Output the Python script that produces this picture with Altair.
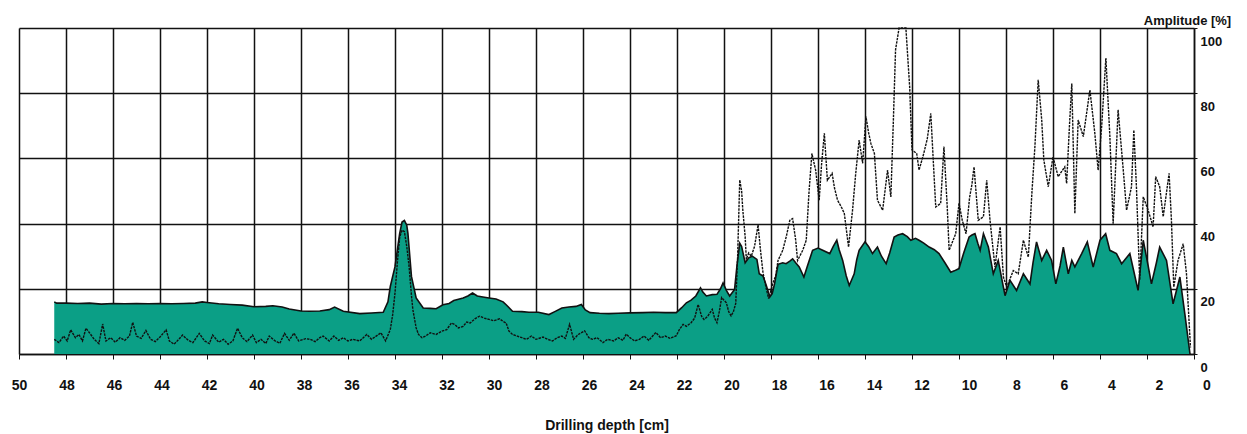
import altair as alt
import pandas as pd

# Drilling depth [cm] and amplitude [%] of the filled (feed force) curve
depth_a = [48.5, 48.4, 48.0, 47.5, 47.0, 46.5, 46.0, 45.5, 45.0, 44.5, 44.0, 43.5, 43.0, 42.5, 42.2, 42.0,
           41.5, 41.0, 40.5, 40.0, 39.5, 39.2, 38.8, 38.5, 38.0, 37.63, 37.2, 36.8, 36.57, 36.2, 35.5, 35.0,
           34.5, 34.3, 34.2, 34.0, 33.8, 33.7, 33.6, 33.5, 33.45, 33.3, 33.1, 32.8, 32.5, 32.25, 31.96, 31.7,
           31.5, 31.3, 31.1, 30.9, 30.7, 30.5, 30.26, 30.0, 29.7, 29.4, 29.27, 29.0, 28.6, 28.3, 27.9, 27.45,
           27.2, 26.9, 26.6, 26.3, 26.07, 25.9, 25.7, 25.3, 24.9, 24.5, 24.0, 23.45, 23.0, 22.5, 22.03, 21.8,
           21.6, 21.4, 21.2, 21.0, 20.9, 20.75, 20.5, 20.3, 20.15, 20.04, 19.9, 19.76, 19.55, 19.45, 19.33,
           19.25, 19.1, 18.95, 18.8, 18.6, 18.5, 18.34, 18.2, 18.05, 17.95, 17.85, 17.7, 17.5, 17.36, 17.2,
           17.08, 16.95, 16.8, 16.6, 16.45, 16.23, 16.0, 15.8, 15.5, 15.35, 15.2, 15.1, 14.95, 14.8, 14.67,
           14.46, 14.35, 14.25, 14.0, 13.85, 13.68, 13.47, 13.3, 13.1, 12.95, 12.76, 12.6, 12.4, 12.2, 12.05,
           11.85, 11.7, 11.5, 11.27, 11.05, 10.85, 10.6, 10.35, 10.2, 10.0, 9.8, 9.57, 9.45, 9.32, 9.2, 9.1,
           8.96, 8.75, 8.54, 8.33, 8.15, 8.04, 7.83, 7.55, 7.26, 6.98, 6.85, 6.7, 6.48, 6.27, 6.06, 5.88,
           5.7, 5.56, 5.35, 5.2, 5.07, 4.78, 4.54, 4.29, 4.0, 3.76, 3.58, 3.3, 3.08, 2.73, 2.55, 2.38, 2.16,
           1.95, 1.81, 1.6, 1.46, 1.17, 0.89, 0.6, 0.39, 0.17]
amp_a = [16.0, 15.6, 15.6, 15.5, 15.6, 15.3, 15.5, 15.4, 15.5, 15.4, 15.5, 15.4, 15.5, 15.6, 16.0, 15.8,
         15.4, 15.2, 15.0, 14.5, 14.6, 14.8, 14.4, 13.8, 13.2, 13.1, 13.2, 13.6, 14.4, 13.1, 12.4, 12.6,
         12.8, 16.0, 20.7, 26.8, 37.0, 40.5, 41.0, 39.5, 37.0, 23.8, 17.2, 14.1, 14.0, 13.9, 15.1, 15.5,
         16.4, 16.8, 17.2, 17.8, 18.7, 17.8, 17.5, 17.2, 16.9, 16.0, 15.1, 13.1, 13.0, 12.8, 12.8, 12.1,
         13.0, 14.1, 14.4, 14.6, 15.2, 13.5, 12.7, 12.5, 12.4, 12.5, 12.6, 12.7, 12.8, 12.7, 12.7, 14.2,
         15.7, 16.5, 17.8, 20.3, 19.0, 17.8, 18.2, 18.3, 20.0, 21.8, 19.5, 17.8, 19.8, 27.0, 34.0,
         33.0, 28.0, 29.5, 30.0, 29.0, 24.6, 23.9, 21.0, 17.5, 18.5, 21.5, 27.5, 28.0, 27.7, 28.5,
         29.2, 28.0, 26.7, 23.6, 27.0, 31.8, 32.5, 31.8, 30.8, 33.0, 34.9, 32.0, 28.7, 24.0, 21.0,
         24.6, 29.0, 31.8, 34.4, 33.0, 30.8, 32.8, 30.0, 27.7, 31.0, 35.9, 36.5, 36.9, 36.0, 34.9,
         35.5, 34.9, 34.0, 32.8, 32.0, 30.8, 28.0, 25.1, 25.5, 26.2, 31.0, 35.9, 36.5, 36.9, 34.0, 31.8,
         36.9, 32.8, 24.6, 28.7, 22.0, 17.9, 22.6, 19.5, 24.6, 21.5, 28.0, 34.4, 28.7, 31.8, 28.7, 21.5,
         27.0, 32.8, 24.6, 28.7, 26.7, 30.8, 34.4, 26.7, 34.9, 36.9, 31.8, 30.8, 27.7, 30.8, 25.0, 19.5, 34.9,
         27.0, 21.5, 28.0, 32.8, 28.7, 15.4, 23.6, 12.3, 0.0]

# Drilling depth [cm] and amplitude [%] of the dotted (torque) curve
depth_b = [48.5, 48.3, 48.1, 47.95, 47.8, 47.6, 47.45, 47.3, 47.15, 47.0, 46.8, 46.6, 46.44, 46.3, 46.1,
           45.9, 45.7, 45.5, 45.3, 45.16, 45.0, 44.8, 44.6, 44.4, 44.2, 44.0, 43.74, 43.6, 43.4, 43.2,
           43.04, 42.8, 42.6, 42.33, 42.1, 41.9, 41.76, 41.5, 41.3, 41.1, 40.9, 40.7, 40.5, 40.3, 40.06,
           39.9, 39.7, 39.5, 39.35, 39.1, 38.9, 38.7, 38.5, 38.3, 38.1, 37.8, 37.6, 37.4, 37.2, 37.06,
           36.8, 36.6, 36.4, 36.2, 36.0, 35.8, 35.5, 35.35, 35.2, 35.0, 34.8, 34.6, 34.4, 34.2, 34.1,
           34.0, 33.9, 33.8, 33.7, 33.6, 33.5, 33.4, 33.3, 33.24, 33.1, 33.0, 32.85, 32.7, 32.5, 32.25,
           32.0, 31.8, 31.6, 31.45, 31.3, 31.1, 30.95, 30.8, 30.6, 30.4, 30.2, 30.0, 29.8, 29.55, 29.4,
           29.27, 29.15, 29.0, 28.8, 28.6, 28.4, 28.2, 28.0, 27.7, 27.5, 27.3, 27.1, 26.9, 26.75, 26.57,
           26.4, 26.2, 25.93, 25.75, 25.6, 25.4, 25.15, 24.95, 24.7, 24.5, 24.3, 24.16, 24.0, 23.8, 23.6,
           23.4, 23.2, 22.9, 22.7, 22.5, 22.3, 22.03, 21.9, 21.74, 21.6, 21.4, 21.25, 21.1, 20.95, 20.85,
           20.7, 20.5, 20.4, 20.3, 20.2, 20.1, 20.0, 19.9, 19.8, 19.7, 19.6, 19.5, 19.42, 19.33, 19.25,
           19.2, 19.1, 19.05, 18.95, 18.84, 18.7, 18.55, 18.45, 18.34, 18.2, 18.1, 17.93, 17.8, 17.7,
           17.5, 17.35, 17.2, 17.08, 16.95, 16.87, 16.65, 16.5, 16.38, 16.26, 16.1, 15.95, 15.85, 15.73,
           15.6, 15.4, 15.3, 15.17, 15.0, 14.88, 14.7, 14.53, 14.4, 14.25, 14.1, 13.96, 13.85, 13.75,
           13.6, 13.47, 13.25, 13.04, 12.9, 12.8, 12.7, 12.55, 12.26, 12.1, 12.0, 11.8, 11.7, 11.5, 11.35,
           11.2, 11.1, 10.99, 10.78, 10.64, 10.5, 10.42, 10.14, 10.0, 9.86, 9.7, 9.55, 9.45, 9.36, 9.18,
           8.96, 8.82, 8.68, 8.47, 8.25, 8.11, 7.97, 7.69, 7.48, 7.26, 7.05, 6.9, 6.77, 6.63, 6.48, 6.39,
           6.2, 6.0, 5.78, 5.5, 5.42, 5.3, 5.2, 5.07, 4.93, 4.71, 4.43, 4.22, 4.08, 3.93, 3.75, 3.58, 3.44,
           3.23, 3.01, 2.87, 2.66, 2.56, 2.45, 2.31, 2.16, 1.95, 1.74, 1.63, 1.46, 1.31, 1.06, 0.96, 0.86,
           0.68, 0.46, 0.32, 0.15]
amp_b = [4.5, 3.5, 5.5, 4.0, 7.4, 5.0, 6.0, 4.0, 7.9, 6.5, 4.5, 3.2, 9.2, 4.0, 5.0,
         3.6, 5.0, 4.2, 5.5, 9.7, 5.5, 4.8, 7.2, 4.5, 3.8, 5.2, 7.4, 4.0, 3.0, 4.5,
         5.8, 4.2, 3.5, 6.3, 4.0, 3.2, 5.8, 3.6, 4.5, 3.0, 4.0, 7.9, 5.0, 3.8, 5.8,
         3.5, 4.5, 3.2, 5.5, 4.0, 3.3, 6.3, 4.2, 6.4, 4.0, 4.7, 4.5, 3.8, 5.0, 5.5,
         4.0, 5.5, 4.2, 5.0, 4.0, 4.5, 4.0, 5.0, 6.0, 4.5, 5.5, 6.5, 4.0, 7.5, 12.0,
         18.7, 28.0, 35.9, 38.0, 37.5, 33.0, 26.8, 18.0, 13.6, 8.0, 6.0, 5.0, 5.5, 6.5, 6.0,
         7.0, 7.5, 9.5, 9.0, 8.0, 8.5, 9.8, 9.5, 10.8, 11.6, 11.0, 10.6, 10.2, 10.8, 10.0,
         9.5, 7.0, 6.0, 5.5, 5.0, 4.5, 5.5, 4.5, 5.2, 4.5, 4.0, 5.0, 5.5, 4.8, 9.1,
         4.5, 6.0, 7.1, 5.0, 4.5, 5.0, 3.5, 4.5, 4.0, 5.0, 4.2, 6.1, 5.0, 4.0, 4.5,
         5.5, 4.2, 6.6, 5.0, 5.5, 4.8, 5.6, 7.5, 9.1, 8.5, 9.6, 11.0, 15.2, 11.5, 10.6,
         11.5, 13.7, 11.0, 9.6, 13.0, 17.3, 16.5, 15.7, 13.0, 11.7, 13.0, 15.5, 30.0, 53.4, 50.0,
         44.2, 36.0, 29.0, 31.0, 30.0, 33.0, 39.6, 32.0, 24.9, 20.0, 17.0, 21.5, 24.0, 28.7,
         31.8, 36.0, 41.0, 41.5, 35.0, 28.7, 31.8, 34.9, 50.0, 61.5, 56.4, 47.2, 58.0, 67.7,
         53.3, 55.4, 51.0, 47.2, 45.0, 43.1, 32.8, 44.1, 55.0, 65.6, 58.5, 72.8, 68.0, 64.6,
         61.5, 47.2, 44.1, 56.4, 48.2, 70.0, 93.3, 100.0, 100.0, 82.0, 62.6, 61.5, 56.4, 61.5, 66.0,
         73.8, 60.0, 45.1, 46.2, 63.6, 45.0, 31.8, 36.9, 46.2, 41.0, 36.9, 48.0, 52.0, 57.4, 41.0,
         42.1, 53.3, 41.0, 26.7, 39.0, 23.6, 20.5, 25.6, 24.6, 34.9, 29.7, 49.2, 63.6, 84.1, 71.8, 59.5,
         51.3, 60.5, 54.4, 57.4, 52.3, 70.0, 83.0, 43.1, 71.8, 66.7, 81.0, 67.7, 56.4, 69.7, 90.8, 66.7, 40.0,
         74.9, 56.4, 44.1, 51.3, 68.7, 51.3, 22.6, 48.2, 44.1, 39.0, 54.4, 51.3, 42.1, 55.4, 41.0, 20.5,
         28.7, 33.8, 24.6, 2.0]

x_ticks = list(range(0, 51))
y_ticks = list(range(0, 101, 10))

df_a = pd.DataFrame({"depth": depth_a, "amp": amp_a})
df_b = pd.DataFrame({"depth": depth_b, "amp": amp_b})

FONT = "Liberation Sans"
GREEN = "#0b9f86"

x_scale = alt.Scale(domain=[0, 50], reverse=True, nice=False, zero=False)
y_scale = alt.Scale(domain=[0, 100], nice=False)

x_axis = alt.Axis(
    values=x_ticks,
    title="Drilling depth [cm]",
    titleFont=FONT, titleFontSize=14, titleFontWeight="bold", titleColor="#111",
    titleY=75, titleBaseline="alphabetic",
    labelExpr="datum.value % 2 === 0 ? datum.label : ''",
    labelFont=FONT, labelFontSize=14, labelFontWeight="bold", labelColor="#111",
    labelPadding=19, labelFlush=False, labelOverlap=False,
    labelOffset={"expr": "(50 - datum.value) * 0.25"},
    tickSize=5, tickColor="#111", tickWidth=1,
    domainColor="#111", domainWidth=1.5,
    grid=True, gridColor="#111", gridWidth=1.5,
    gridOpacity={"condition": {"test": "datum.value % 2 === 0", "value": 1}, "value": 0},
)
y_axis = alt.Axis(
    orient="right",
    values=y_ticks,
    title="Amplitude [%]",
    titleAngle=0, titleAlign="center", titleBaseline="alphabetic",
    titleX=-7, titleY=-4,
    titleFont=FONT, titleFontSize=13, titleFontWeight="bold", titleColor="#111",
    labelExpr="datum.value % 20 === 0 ? datum.label : ''",
    labelFont=FONT, labelFontSize=13, labelFontWeight="bold", labelColor="#111",
    labelAlign="left", labelBaseline="middle", labelPadding=3, labelOffset=13,
    labelOverlap=False, labelFlush=False,
    tickSize=3, tickColor="#111", tickWidth=1,
    domainColor="#111", domainWidth=1.5,
    grid=True, gridColor="#111", gridWidth=1.5,
    gridOpacity={"condition": {"test": "datum.value % 20 === 0", "value": 1}, "value": 0},
)

area = alt.Chart(df_a).mark_area(color=GREEN, fillOpacity=1, interpolate="linear").encode(
    x=alt.X("depth:Q", scale=x_scale, axis=x_axis),
    y=alt.Y("amp:Q", scale=y_scale, axis=y_axis, stack=None),
)
outline = alt.Chart(df_a).mark_line(color="#111", strokeWidth=1.6).encode(
    x=alt.X("depth:Q", scale=x_scale),
    y=alt.Y("amp:Q", scale=y_scale),
)
line_b = alt.Chart(df_b).mark_line(color="#111", strokeWidth=1.4, strokeDash=[2.5, 1]).encode(
    x=alt.X("depth:Q", scale=x_scale),
    y=alt.Y("amp:Q", scale=y_scale),
)

chart = (
    alt.layer(area, outline, line_b)
    .properties(
        width=1175, height=326,
        autosize=alt.AutoSizeParams(type="none"),
        padding={"left": 11, "top": 20, "right": 45, "bottom": 80},
        background="white",
    )
    .configure_view(stroke=None)
)

chart.save("out.html", embed_options={"renderer": "svg", "actions": False})
